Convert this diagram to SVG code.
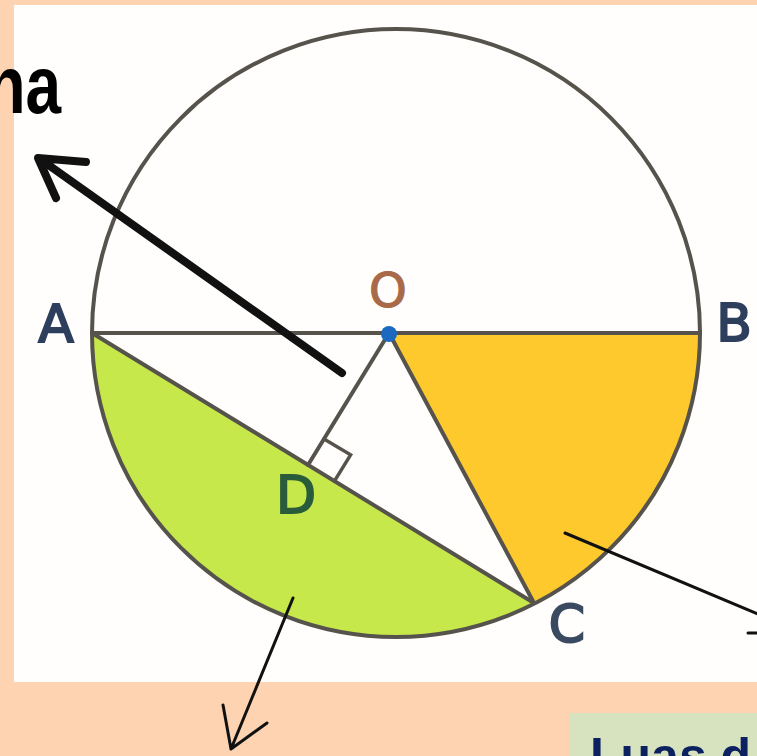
<svg xmlns="http://www.w3.org/2000/svg" width="757" height="756" viewBox="0 0 757 756">
<style>
.geo{fill:none;stroke:#56534c;stroke-width:4;stroke-linecap:round}
.lbl{font-family:"DejaVu Sans",sans-serif;font-size:52px;text-anchor:middle}
.arr{fill:none;stroke:#111;stroke-linecap:round;stroke-linejoin:round}
</style>
<rect x="0" y="0" width="757" height="756" fill="#fdd3b1"/>
<rect x="14" y="5" width="743" height="677" fill="#fffefc"/>
<g id="shapes">
<path id="segment" d="M92,333 A304,304 0 0 0 534,603 Z" fill="#c6e84b"/>
<path id="sector" d="M389,333 L700,333 A304,304 0 0 1 534,603 Z" fill="#fdc92d"/>
<circle id="circle" cx="396" cy="333" r="304" class="geo"/>
<line class="geo" x1="92" y1="333" x2="700" y2="333"/>
<line class="geo" x1="92" y1="333" x2="534" y2="603"/>
<line class="geo" x1="389" y1="333" x2="534" y2="603"/>
<line class="geo" x1="389" y1="333" x2="308" y2="465"/>
<polyline class="geo" points="324,439 350.6,454.8 334.4,481.2" style="stroke-width:3.5"/>
<circle cx="389" cy="334" r="8" fill="#1b69c0"/>
</g>
<g id="labels">
<text class="lbl" x="56" y="342" style="fill:#2e3f5e;stroke:#2e3f5e;stroke-width:2">A</text>
<text class="lbl" x="734" y="341" style="fill:#2e3f5e;stroke:#2e3f5e;stroke-width:2">B</text>
<text class="lbl" x="388" y="307" style="font-size:48px;fill:#a86a48;stroke:#a86a48;stroke-width:1.2">O</text>
<text class="lbl" x="296" y="513" style="fill:#2a5c3c;stroke:#2a5c3c;stroke-width:2">D</text>
<text class="lbl" x="567" y="642" style="fill:#3a4a60;stroke:#3a4a60;stroke-width:2">C</text>
</g>
<g id="connectors">
<path class="arr" d="M342,373 L40,159 M86,162 L38,158 L56,198" style="stroke-width:8"/>
<path class="arr" d="M565,533 L760,615" style="stroke-width:3"/>
<path class="arr" d="M748,633 L757,633" style="stroke-width:3"/>
<path class="arr" d="M293,598 L231,749 M223,705 L231,749 L267,723" style="stroke-width:3"/>
</g>
<g id="texts">
<text transform="translate(61,113) scale(0.78,1)" text-anchor="end" font-family="Liberation Sans, Arial, sans-serif" font-weight="bold" font-size="82" fill="#000">na</text>
<rect x="569" y="713" width="188" height="43" fill="#d7e3bf"/>
<text x="590" y="773" font-family="Liberation Sans, Arial, sans-serif" font-weight="bold" font-size="50" fill="#0b2160">Luas d</text>
</g>
</svg>
